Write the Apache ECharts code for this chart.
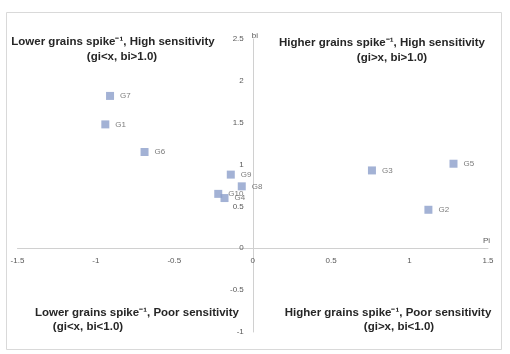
<!DOCTYPE html>
<html><head><meta charset="utf-8">
<script src="https://cdn.jsdelivr.net/npm/echarts@6/dist/echarts.min.js"></script>
<style>html,body{margin:0;padding:0;background:#fff}#c{width:510px;height:354px}</style>
</head><body><div id="c"></div>
<script>
const genotypes = ['G1','G2','G3','G4','G5','G6','G7','G8','G9','G10'];
const piValues  = [-0.94, 1.12, 0.76, -0.18, 1.28, -0.69, -0.91, -0.07, -0.14, -0.22];
const biValues  = [1.48, 0.46, 0.93, 0.60, 1.01, 1.15, 1.82, 0.74, 0.88, 0.65];
const xTicks = [-1.5, -1, -0.5, 0, 0.5, 1, 1.5];
const yTicks = [-1, -0.5, 0, 0.5, 1, 1.5, 2, 2.5];

const W = 510, H = 354;
const G = {left:17.5, right:22, top:39, bottom:22};
const xMin = xTicks[0], xMax = xTicks[xTicks.length-1];
const yMin = yTicks[0], yMax = yTicks[yTicks.length-1];
// offsets so the axes sit at zero, Excel-style (labels travel with the lines)
const yAxisOffset = -((0 - xMin) / (xMax - xMin)) * (W - G.left - G.right);
const xAxisOffset = -((0 - yMin) / (yMax - yMin)) * (H - G.top - G.bottom);

const chart = echarts.init(document.getElementById('c'));
const lbl = {color:'#595959', fontSize:8, fontFamily:'Liberation Sans, Arial, sans-serif'};
const qt = {fill:'#262626', font:'bold 11.5px "Liberation Sans", Arial, sans-serif', textAlign:'center', textVerticalAlign:'middle'};
function q(x,y,t){return {type:'text', x:x, y:y, style:Object.assign({text:t, x:0, y:0}, qt), silent:true};}
chart.setOption({
  animation:false,
  backgroundColor:'#fff',
  grid:Object.assign({containLabel:false, outerBoundsMode:'none'}, G),
  xAxis:{type:'value', min:xMin, max:xMax, interval:0.5, position:'bottom', offset:xAxisOffset,
    name:'Pi', nameLocation:'end', nameGap:-5,
    nameTextStyle:Object.assign({align:'left', verticalAlign:'bottom', padding:[0,0,3,0]}, lbl),
    axisLine:{onZero:false, lineStyle:{color:'#d0d0d0', width:1}},
    axisTick:{show:false}, splitLine:{show:false},
    axisLabel:Object.assign({margin:9}, lbl)},
  yAxis:{type:'value', min:yMin, max:yMax, interval:0.5, position:'left', offset:yAxisOffset,
    name:'bi', nameLocation:'end', nameGap:-1,
    nameTextStyle:Object.assign({align:'left', verticalAlign:'bottom', padding:[0,0,0,-1]}, lbl),
    axisLine:{onZero:false, lineStyle:{color:'#d0d0d0', width:1}},
    axisTick:{show:false}, splitLine:{show:false},
    axisLabel:Object.assign({margin:9}, lbl)},
  series:[{type:'scatter', symbol:'rect', symbolSize:8,
    itemStyle:{color:'#8C9FCB'},
    data:genotypes.map((g,i)=>({name:g, value:[piValues[i], biValues[i]]})),
    label:Object.assign({show:true, position:'right', distance:6, formatter:p=>p.name}, lbl)}],
  graphic:[
    {type:'rect', shape:{x:6.5, y:12.5, width:495, height:337}, style:{fill:null, stroke:'#d9d9d9', lineWidth:1}, silent:true},
    q(113,42,'Lower grains spike\u207B\u00B9, High sensitivity'),
    q(122,57,'(gi<x, bi>1.0)'),
    q(382,43,'Higher grains spike\u207B\u00B9, High sensitivity'),
    q(392,58,'(gi>x, bi>1.0)'),
    q(137,313,'Lower grains spike\u207B\u00B9, Poor sensitivity'),
    q(88,327,'(gi<x, bi<1.0)'),
    q(388,313,'Higher grains spike\u207B\u00B9, Poor sensitivity'),
    q(399,327,'(gi>x, bi<1.0)')
  ]
});
</script></body></html>
